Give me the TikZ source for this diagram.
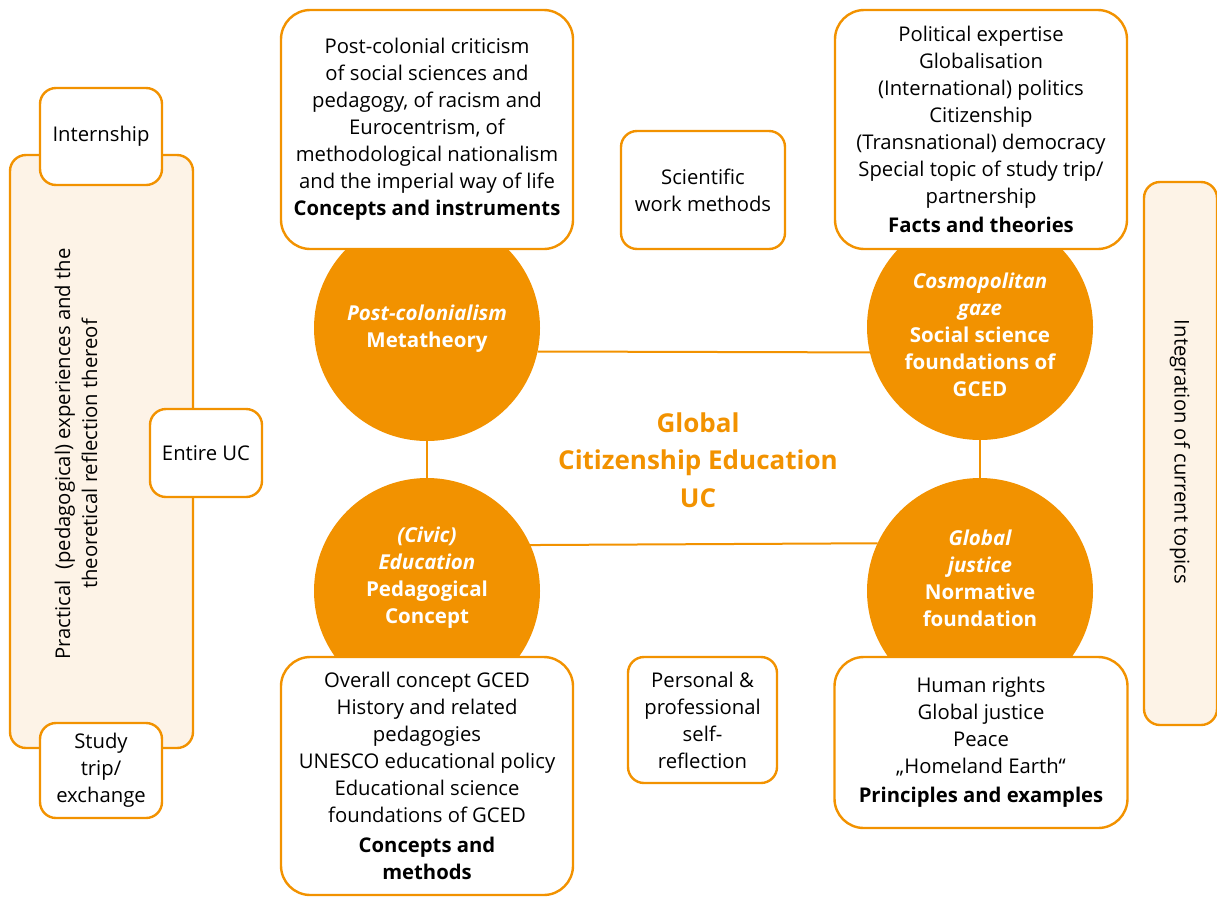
\documentclass[tikz,border=0pt]{standalone}
\usepackage{fontspec}
\setmainfont{Open Sans}
\definecolor{gorange}{RGB}{242,146,0}
\definecolor{cream}{RGB}{253,243,231}
\begin{document}
\begin{tikzpicture}[x=0.75pt,y=-0.75pt,
  every node/.style={inner sep=0pt, outer sep=0pt},
  txt/.style={font=\fontsize{15.2}{20.2}\selectfont, align=center, text=black},
  bigbox/.style={draw=gorange, line width=1.8pt, fill=white, rounded corners=22pt, txt},
  smallbox/.style={draw=gorange, line width=1.8pt, fill=white, rounded corners=12pt, txt},
  tallbox/.style={draw=gorange, line width=1.8pt, fill=cream, rounded corners=12pt},
  disc/.style={circle, fill=gorange, minimum size=169.5pt},
  disctext/.style={font=\fontsize{15.4}{20.2}\selectfont\bfseries, align=center, text=white},
  link/.style={draw=gorange, line width=1.5pt}
]
\useasboundingbox (0,0) rectangle (1217,897);

% side frames
\node[tallbox, minimum width=137.25pt, minimum height=444.75pt] (left) at (101.5,451.5) {};
\node[txt, rotate=90] (lefttext) at (76,454) {Practical\ \ (pedagogical) experiences and the\\theoretical reflection thereof};
\node[tallbox, minimum width=54.75pt, minimum height=407.25pt] (right) at (1180.5,453.5) {};
\node[txt, rotate=-90] (righttext) at (1180,452) {Integration of current topics};

\node[smallbox, minimum width=91.5pt, minimum height=72.75pt] (intern) at (101,136.5) {Internship};
\node[smallbox, minimum width=84pt, minimum height=66pt] (entire) at (206,453) {Entire UC};
\node[smallbox, minimum width=91.5pt, minimum height=71.25pt] (study) at (101,770.5) {Study\\trip/\\exchange};

% circles
\node[disc] (c1) at (427,328) {};
\node[disc] (c2) at (980,327) {};
\node[disc] (c3) at (427,591) {};
\node[disc] (c4) at (980,591) {};

\draw[link] (c1.-12.3) -- (c2.-167.7);
\draw[link] (c3.24.6) -- (c4.155.4);
\draw[link] (c1.south) -- (c3.north);
\draw[link] (c2.south) -- (c4.north);

\node[disctext] (t1) at (427,329) {\itshape Post-colonialism\\Metatheory};
\node[disctext] (t2) at (980,335) {\itshape Cosmopolitan\\\itshape gaze\\Social science\\foundations of\\GCED};
\node[disctext] (t3) at (427,578) {\itshape (Civic)\\\itshape Education\\Pedagogical\\Concept};
\node[disctext] (t4) at (980,578) {\itshape Global\\\itshape justice\\Normative\\foundation};

\node[font=\fontsize{19.5}{28}\selectfont\bfseries, text=gorange, align=center] (center) at (698,460) {Global\\Citizenship Education\\UC};

% content boxes
\node[bigbox, minimum width=219pt, minimum height=179.25pt] (tl) at (427,129.5)
 {Post-colonial criticism\\of social sciences and\\pedagogy, of racism and\\Eurocentrism, of\\methodological nationalism\\and the imperial way of life\\\textbf{Concepts and instruments}};
\node[bigbox, minimum width=219pt, minimum height=179.25pt] (tr) at (981,129.5)
 {Political expertise\\Globalisation\\(International) politics\\Citizenship\\(Transnational) democracy\\Special topic of study trip/\\partnership\\[2pt]\textbf{Facts and theories}};
\node[smallbox, minimum width=123pt, minimum height=88.5pt] (sci) at (703,190) {Scientific\\work methods};
\node[bigbox, minimum width=219pt, minimum height=178.5pt] (bl) at (427,776)
 {Overall concept GCED\\History and related\\pedagogies\\UNESCO educational policy\\Educational science\\foundations of GCED\\[3pt]\textbf{Concepts and}\\\textbf{methods}};
\node[smallbox, minimum width=111.75pt, minimum height=94.5pt] (pers) at (702.5,720) {Personal \&\\professional\\self-\\reflection};
\node[bigbox, minimum width=219.75pt, minimum height=128.25pt] (br) at (981,742.5)
 {Human rights\\Global justice\\Peace\\„Homeland Earth“\\[2pt]\textbf{Principles and examples}};
\end{tikzpicture}
\end{document}
